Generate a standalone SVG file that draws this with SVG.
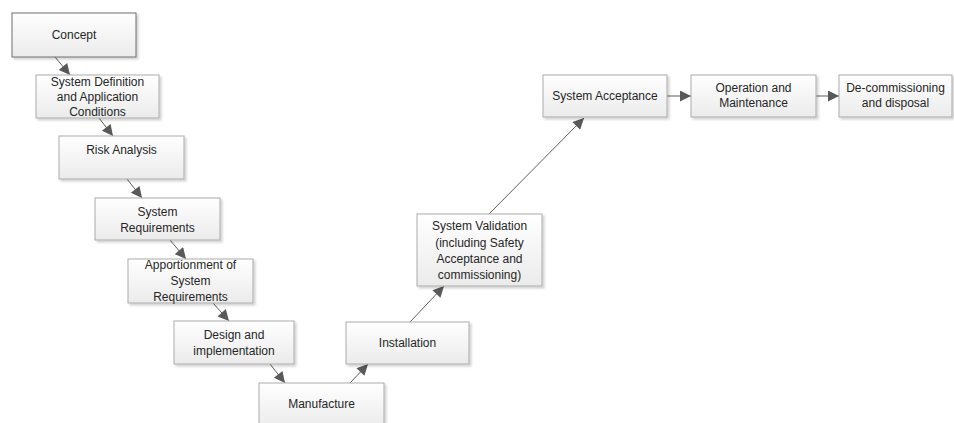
<svg xmlns="http://www.w3.org/2000/svg" width="954" height="423" viewBox="0 0 954 423">
  <defs>
    <linearGradient id="boxFill" x1="0" y1="0" x2="0" y2="1">
      <stop offset="0" stop-color="#ffffff"/>
      <stop offset="1" stop-color="#ebebeb"/>
    </linearGradient>
    <filter id="shadow" x="-10%" y="-10%" width="130%" height="140%">
      <feDropShadow dx="2" dy="2" stdDeviation="1" flood-color="#000" flood-opacity="0.18"/>
    </filter>
    <marker id="arrow" viewBox="0 0 10 10" refX="10" refY="5" markerWidth="14" markerHeight="11" markerUnits="userSpaceOnUse" orient="auto">
      <path d="M0,0 L10,5 L0,10 Z" fill="#595959"/>
    </marker>
  </defs>
  <style>
    .box { fill: url(#boxFill); stroke: #ababab; stroke-width: 1; filter: url(#shadow); }
    .box.active { stroke: #6e6e6e; }
    .lbl { font-family: "Liberation Sans", Arial, sans-serif; font-size: 12px; fill: #262626; text-anchor: middle; }
    .edge { stroke: #5f5f5f; stroke-width: 1; fill: none; marker-end: url(#arrow); }
  </style>
  <rect width="954" height="423" fill="#ffffff"/>

  <g id="connectors">
    <line class="edge" x1="55" y1="57" x2="70" y2="75"/>
    <line class="edge" x1="99" y1="118" x2="113" y2="136"/>
    <line class="edge" x1="127" y1="179" x2="142" y2="198"/>
    <line class="edge" x1="170" y1="240" x2="186" y2="259"/>
    <line class="edge" x1="213" y1="303" x2="229" y2="321"/>
    <line class="edge" x1="270" y1="364" x2="285" y2="383"/>
    <line class="edge" x1="350" y1="383" x2="368" y2="364"/>
    <line class="edge" x1="410" y1="322" x2="444" y2="286"/>
    <line class="edge" x1="489" y1="214" x2="584" y2="118"/>
    <line class="edge" x1="667" y1="96" x2="691" y2="96"/>
    <line class="edge" x1="816" y1="96" x2="839" y2="96"/>
  </g>

  <g id="concept">
    <rect class="box active" x="12" y="13" width="124" height="44"/>
    <text class="lbl" x="74" y="39">Concept</text>
  </g>
  <g id="system-definition">
    <rect class="box" x="36" y="75" width="123" height="43"/>
    <text class="lbl" x="97.5" y="86">System Definition</text>
    <text class="lbl" x="97.5" y="101">and Application</text>
    <text class="lbl" x="97.5" y="116">Conditions</text>
  </g>
  <g id="risk-analysis">
    <rect class="box" x="59" y="136" width="125" height="43"/>
    <text class="lbl" x="121.5" y="154">Risk Analysis</text>
  </g>
  <g id="system-requirements">
    <rect class="box" x="95" y="198" width="125" height="42"/>
    <text class="lbl" x="157.5" y="216">System</text>
    <text class="lbl" x="157.5" y="232">Requirements</text>
  </g>
  <g id="apportionment">
    <rect class="box" x="128" y="259" width="125" height="44"/>
    <text class="lbl" x="190.5" y="269">Apportionment of</text>
    <text class="lbl" x="190.5" y="285">System</text>
    <text class="lbl" x="190.5" y="301">Requirements</text>
  </g>
  <g id="design">
    <rect class="box" x="174" y="321" width="120" height="43"/>
    <text class="lbl" x="234" y="339">Design and</text>
    <text class="lbl" x="234" y="355">implementation</text>
  </g>
  <g id="manufacture">
    <rect class="box" x="259" y="383" width="125" height="45"/>
    <text class="lbl" x="321.5" y="408">Manufacture</text>
  </g>
  <g id="installation">
    <rect class="box" x="346" y="322" width="123" height="42"/>
    <text class="lbl" x="407.5" y="347">Installation</text>
  </g>
  <g id="system-validation">
    <rect class="box" x="417" y="214" width="125" height="72"/>
    <text class="lbl" x="479.5" y="230">System Validation</text>
    <text class="lbl" x="479.5" y="247">(including Safety</text>
    <text class="lbl" x="479.5" y="263">Acceptance and</text>
    <text class="lbl" x="479.5" y="279">commissioning)</text>
  </g>
  <g id="system-acceptance">
    <rect class="box" x="543" y="75" width="124" height="42"/>
    <text class="lbl" x="605" y="100">System Acceptance</text>
  </g>
  <g id="operation-maintenance">
    <rect class="box" x="691" y="75" width="125" height="42"/>
    <text class="lbl" x="753.5" y="92">Operation and</text>
    <text class="lbl" x="753.5" y="107">Maintenance</text>
  </g>
  <g id="decommissioning">
    <rect class="box" x="839" y="75" width="113" height="42"/>
    <text class="lbl" x="895.5" y="92">De-commissioning</text>
    <text class="lbl" x="895.5" y="107">and disposal</text>
  </g>
</svg>
